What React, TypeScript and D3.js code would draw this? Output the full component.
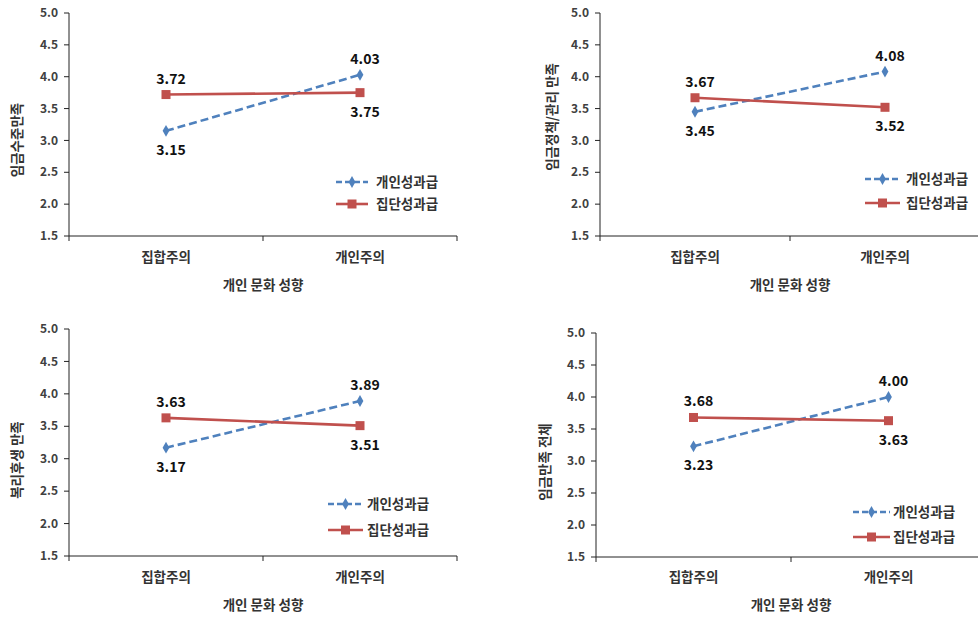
import {useEffect, useRef} from "react";
import * as d3 from "d3";

const categories = ["집합주의", "개인주의"];
const seriesNames = ["개인성과급", "집단성과급"];
const yTicks = [1.5, 2.0, 2.5, 3.0, 3.5, 4.0, 4.5, 5.0];
const xTitle = "개인 문화 성향";

const yTitles = ["임금수준만족", "임금정책/관리 만족", "복리후생 만족", "임금만족 전체"];

// individual / group incentive values per panel
const payLevelIndiv = [3.15, 4.03];
const payLevelGroup = [3.72, 3.75];
const payPolicyIndiv = [3.45, 4.08];
const payPolicyGroup = [3.67, 3.52];
const welfareIndiv = [3.17, 3.89];
const welfareGroup = [3.63, 3.51];
const totalIndiv = [3.23, 4.00];
const totalGroup = [3.68, 3.63];

const panelValues = [
    [payLevelIndiv, payLevelGroup],
    [payPolicyIndiv, payPolicyGroup],
    [welfareIndiv, welfareGroup],
    [totalIndiv, totalGroup],
];

const layouts = [
    {x0: 69, x1: 457, yTop: 13, yBot: 236, titleX: 17, titleY: 140, legX0: 336, legX1: 368, legText: 376, legY: [182, 204], catY: 257, axisTitleY: 285},
    {x0: 600, x1: 980, yTop: 13, yBot: 236, titleX: 552, titleY: 117, legX0: 865, legX1: 900, legText: 906, legY: [179, 203], catY: 257, axisTitleY: 285},
    {x0: 69, x1: 457, yTop: 329, yBot: 556, titleX: 17, titleY: 460, legX0: 328, legX1: 363, legText: 367, legY: [504, 530], catY: 577, axisTitleY: 605},
    {x0: 596, x1: 986, yTop: 333, yBot: 557, titleX: 545, titleY: 462, legX0: 853, legX1: 890, legText: 893, legY: [512, 537], catY: 577, axisTitleY: 605},
];

const colors = ["#4F81BD", "#C0504D"];
const font = "'Noto Sans CJK KR', 'Noto Sans', sans-serif";

export default function App() {
    const svgRef = useRef<SVGSVGElement>(null);

    useEffect(() => {
        const svg = d3.select(svgRef.current);
        svg.selectAll("*").remove();

        layouts.forEach((L, pi) => {
            const g = svg.append("g");
            const x = d3.scaleBand<string>().domain(categories).range([L.x0, L.x1]);
            const y = d3.scaleLinear().domain([1.5, 5.0]).range([L.yBot, L.yTop]);
            const cx = (c: string) => (x(c) as number) + x.bandwidth() / 2;

            // y axis
            g.append("line").attr("x1", L.x0).attr("x2", L.x0).attr("y1", L.yTop).attr("y2", L.yBot)
                .attr("stroke", "#222").attr("stroke-width", 1);
            yTicks.forEach(t => {
                g.append("line").attr("x1", L.x0 - 5).attr("x2", L.x0).attr("y1", y(t)).attr("y2", y(t))
                    .attr("stroke", "#222");
                g.append("text").attr("x", L.x0 - 11).attr("y", y(t)).attr("dy", "0.35em")
                    .attr("text-anchor", "end").attr("font-size", 12).attr("font-weight", 700)
                    .attr("fill", "#404040").attr("font-family", font).text(t.toFixed(1));
            });

            // x axis
            g.append("line").attr("x1", L.x0).attr("x2", L.x1).attr("y1", L.yBot).attr("y2", L.yBot)
                .attr("stroke", "#222");
            [L.x0, L.x0 + x.bandwidth(), L.x1].forEach(tx => {
                g.append("line").attr("x1", tx).attr("x2", tx).attr("y1", L.yBot).attr("y2", L.yBot + 5)
                    .attr("stroke", "#222");
            });
            categories.forEach(c => {
                g.append("text").attr("x", cx(c)).attr("y", L.catY).attr("dy", "0.35em")
                    .attr("text-anchor", "middle").attr("font-size", 13.5).attr("font-weight", 700)
                    .attr("fill", "#333").attr("font-family", font).text(c);
            });
            g.append("text").attr("x", (L.x0 + L.x1) / 2).attr("y", L.axisTitleY).attr("dy", "0.35em")
                .attr("text-anchor", "middle").attr("font-size", 13.5).attr("font-weight", 700)
                .attr("fill", "#333").attr("font-family", font).text(xTitle);

            g.append("text").attr("transform", `translate(${L.titleX},${L.titleY}) rotate(-90)`)
                .attr("dy", "0.35em").attr("text-anchor", "middle").attr("font-size", 13.5)
                .attr("font-weight", 700).attr("fill", "#333").attr("font-family", font)
                .text(yTitles[pi]);

            const line = d3.line<number>().x((_, i) => cx(categories[i])).y(v => y(v));

            panelValues[pi].forEach((vals, si) => {
                g.append("path").attr("d", line(vals)).attr("fill", "none").attr("stroke", colors[si])
                    .attr("stroke-width", 2.6).attr("stroke-dasharray", si === 0 ? "8,4" : null);
                vals.forEach((v, i) => {
                    const px = cx(categories[i]);
                    const py = y(v);
                    if (si === 0) {
                        g.append("path").attr("d", d3.symbol(d3.symbolDiamond, 40)()).attr("transform", `translate(${px},${py})`)
                            .attr("fill", colors[si]);
                    } else {
                        g.append("rect").attr("x", px - 4.5).attr("y", py - 4.5).attr("width", 9).attr("height", 9)
                            .attr("fill", colors[si]);
                    }
                    // indiv: left below, right above; group: left above, right below
                    const above = (si === 0) === (i === 1);
                    g.append("text").attr("x", px + 5).attr("y", above ? py - 11 : py + 24)
                        .attr("text-anchor", "middle").attr("font-size", 14).attr("font-weight", 700)
                        .attr("fill", "#111").attr("font-family", font).text(v.toFixed(2));
                });
            });

            // legend
            seriesNames.forEach((name, si) => {
                const ly = L.legY[si];
                g.append("line").attr("x1", L.legX0).attr("x2", L.legX1).attr("y1", ly).attr("y2", ly)
                    .attr("stroke", colors[si]).attr("stroke-width", 2.6)
                    .attr("stroke-dasharray", si === 0 ? "6,3" : null);
                const mx = (L.legX0 + L.legX1) / 2;
                if (si === 0) {
                    g.append("path").attr("d", d3.symbol(d3.symbolDiamond, 40)()).attr("transform", `translate(${mx},${ly})`)
                        .attr("fill", colors[si]);
                } else {
                    g.append("rect").attr("x", mx - 4.5).attr("y", ly - 4.5).attr("width", 9).attr("height", 9)
                        .attr("fill", colors[si]);
                }
                g.append("text").attr("x", L.legText).attr("y", ly).attr("dy", "0.35em")
                    .attr("font-size", 13.5).attr("font-weight", 700).attr("fill", "#333")
                    .attr("font-family", font).text(name);
            });
        });
    }, []);

    return <svg ref={svgRef} width={978} height={618} viewBox="0 0 978 618"
                style={{position: "absolute", left: 0, top: 0, background: "#fff"}}/>;
}
